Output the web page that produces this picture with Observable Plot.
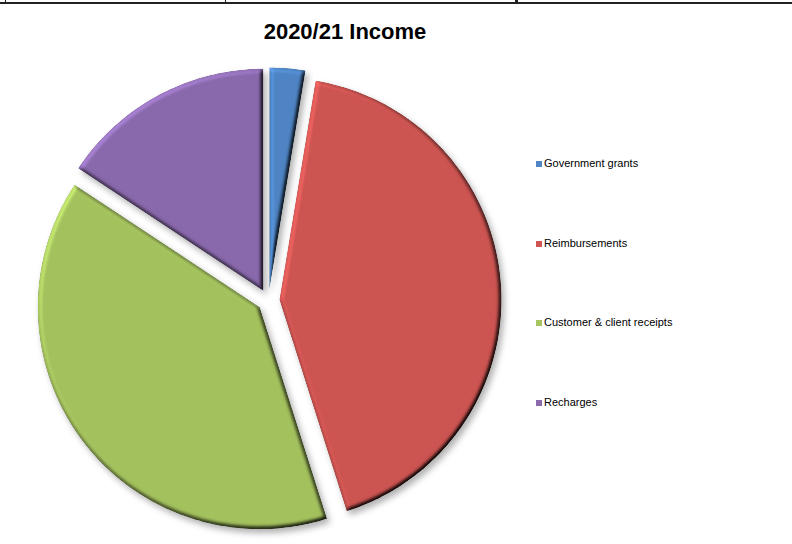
<!DOCTYPE html>
<html>
<head>
<meta charset="utf-8">
<script src="https://cdn.jsdelivr.net/npm/d3@7"></script>
<script src="https://cdn.jsdelivr.net/npm/@observablehq/plot@0.6"></script>
<style>
  html, body { margin: 0; padding: 0; background: #fff; }
  #wrap { position: relative; width: 792px; height: 544px; overflow: hidden; font-family: "Liberation Sans", Arial, sans-serif; }
  #chart { position: absolute; left: 0; top: 0; }
  #title { position: absolute; left: 0; width: 690px; top: 19px; text-align: center; font-weight: bold; font-size: 22px; color: #000; }
  #legend { position: absolute; left: 536px; top: 0; }
  .li { position: absolute; left: 0; white-space: nowrap; font-size: 11px; color: #000; line-height: 12px; }
  .sw { display: inline-block; width: 6px; height: 6px; margin-right: 2px; vertical-align: 0px; }
  #topline { position: absolute; left: 0; top: 2px; width: 792px; height: 2px; background: #222; }
  .tick { position: absolute; top: 0; height: 3px; background: #222; }
  #chart g[aria-label="line"] path { filter: url(#bevel); }
</style>
</head>
<body>
<svg width="0" height="0" style="position:absolute">
  <defs>
    <filter id="bevel" x="-15%" y="-15%" width="135%" height="135%" color-interpolation-filters="sRGB">
      <feGaussianBlur in="SourceAlpha" stdDeviation="2.2" result="blur"/>
      <feDiffuseLighting in="blur" surfaceScale="3.5" diffuseConstant="1" lighting-color="#ffffff" result="diff">
        <feDistantLight azimuth="225" elevation="55"/>
      </feDiffuseLighting>
      <feComposite in="SourceGraphic" in2="diff" operator="arithmetic" k1="1.2" k2="0" k3="0" k4="0" result="lit"/>
      <feComposite in="lit" in2="SourceAlpha" operator="in" result="litIn"/>
      <feGaussianBlur in="SourceAlpha" stdDeviation="3" result="sblur"/>
      <feOffset in="sblur" dx="3" dy="4" result="soff"/>
      <feFlood flood-color="#000" flood-opacity="0.3"/>
      <feComposite in2="soff" operator="in" result="shadow"/>
      <feMerge>
        <feMergeNode in="shadow"/>
        <feMergeNode in="litIn"/>
      </feMerge>
    </filter>
  </defs>
</svg>
<div id="wrap">
  <div id="topline"></div>
  <div class="tick" style="left:5px;width:1px"></div>
  <div class="tick" style="left:225px;width:1px"></div>
  <div class="tick" style="left:515px;width:3px"></div>
  <div id="chart"></div>
  <div id="title">2020/21 Income</div>
  <div id="legend"></div>
</div>
<script>
// Data
const categories = ["Government grants", "Reimbursements", "Customer & client receipts", "Recharges"];
const shares = [2.6, 42.5, 39.2, 15.7]; // percent of 2020/21 income (estimated)
const colors = ["#4F86C6", "#CF5552", "#A6C45F", "#8B6AAE"];
const titleText = "2020/21 Income";

// Geometry of the exploded pie (in pixel-like units, centre at origin, y up)
const radius = 222;
const explode = 11;
const cx = 268, cy = 300, W = 792, H = 544;

const arcs = d3.pie().sort(null).value(d => d)(shares);
const pts = [];
arcs.forEach((a, i) => {
  const mid = (a.startAngle + a.endAngle) / 2;
  const ox = explode * Math.sin(mid), oy = explode * Math.cos(mid);
  pts.push({k: i, x: ox, y: oy});
  const n = Math.max(2, Math.ceil((a.endAngle - a.startAngle) / (Math.PI / 180)));
  for (let j = 0; j <= n; j++) {
    const t = a.startAngle + (a.endAngle - a.startAngle) * j / n;
    pts.push({k: i, x: ox + radius * Math.sin(t), y: oy + radius * Math.cos(t)});
  }
});

const chart = Plot.plot({
  width: W, height: H,
  margin: 0,
  x: {domain: [-cx, W - cx], range: [0, W], axis: null},
  y: {domain: [cy - H, cy], range: [H, 0], axis: null},
  marks: categories.map((c, i) =>
    Plot.line(pts.filter(p => p.k === i), {x: "x", y: "y", curve: "linear-closed", fill: colors[i], stroke: "none"})
  )
});
document.getElementById("chart").appendChild(chart);

document.getElementById("title").textContent = titleText;
const legendTops = [157, 237, 316, 396];
const lg = document.getElementById("legend");
categories.forEach((c, i) => {
  const d = document.createElement("div");
  d.className = "li";
  d.style.top = legendTops[i] + "px";
  const s = document.createElement("span");
  s.className = "sw";
  s.style.background = colors[i];
  d.appendChild(s);
  d.appendChild(document.createTextNode(c));
  lg.appendChild(d);
});
</script>
</body>
</html>
